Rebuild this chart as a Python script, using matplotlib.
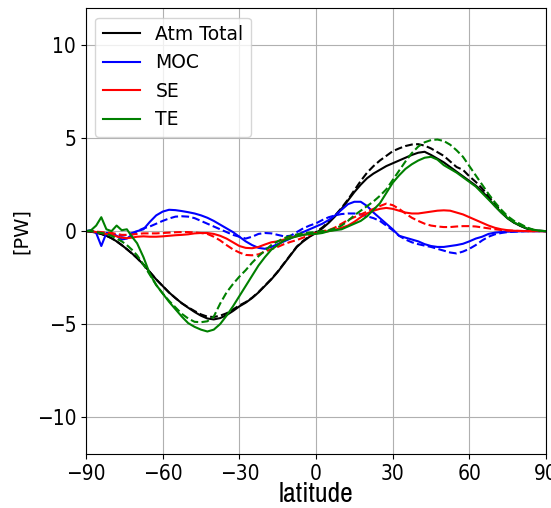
import numpy as np
import matplotlib
matplotlib.use("Agg")
import matplotlib.pyplot as plt
from matplotlib import font_manager

# latitude grid (deg)
lat = [-90, -88, -86, -84, -82, -80, -78, -76, -74, -72, -70,
       -67.5, -65, -62.5, -60, -57.5, -55, -52.5, -50, -47.5, -45, -42.5, -40,
       -37.5, -35, -32.5, -30, -27.5, -25, -22.5, -20, -17.5, -15, -12.5, -10,
       -7.5, -5, -2.5, 0, 2.5, 5, 7.5, 10, 12.5, 15, 17.5, 20, 22.5, 25, 27.5,
       30, 32.5, 35, 37.5, 40, 42.5, 45, 47.5, 50, 52.5, 55, 57.5, 60, 62.5,
       65, 67.5, 70, 72.5, 75, 77.5, 80, 82.5, 85, 87.5, 90]

# Atm total transport [PW]
total_solid = [0, -0.03, -0.08, -0.15, -0.25, -0.38, -0.55, -0.75, -0.97, -1.2, -1.45,
               -1.8, -2.2, -2.6, -2.95, -3.3, -3.6, -3.88, -4.12, -4.35, -4.55, -4.7, -4.75,
               -4.68, -4.52, -4.3, -4.05, -3.85, -3.6, -3.3, -2.95, -2.6, -2.2, -1.75, -1.3,
               -0.85, -0.55, -0.3, -0.1, 0.15, 0.45, 0.8, 1.2, 1.65, 2.1, 2.5, 2.85, 3.1, 3.3, 3.5,
               3.65, 3.8, 3.95, 4.1, 4.22, 4.27, 4.1, 3.9, 3.7, 3.45, 3.2, 2.95, 2.7, 2.45,
               2.15, 1.75, 1.35, 1.0, 0.68, 0.45, 0.28, 0.13, 0.06, 0.02, 0]
total_dash = [0, -0.03, -0.08, -0.15, -0.25, -0.38, -0.55, -0.75, -0.97, -1.2, -1.45,
              -1.8, -2.2, -2.6, -2.95, -3.3, -3.6, -3.88, -4.1, -4.3, -4.48, -4.6, -4.62,
              -4.55, -4.42, -4.22, -4.0, -3.82, -3.58, -3.28, -2.93, -2.58, -2.18, -1.73, -1.28,
              -0.83, -0.52, -0.27, -0.05, 0.2, 0.5, 0.85, 1.25, 1.7, 2.2, 2.7, 3.15, 3.5, 3.8, 4.05,
              4.3, 4.45, 4.58, 4.66, 4.68, 4.6, 4.45, 4.25, 4.05, 3.75, 3.45, 3.3, 2.95, 2.65,
              2.3, 1.88, 1.45, 1.05, 0.72, 0.47, 0.29, 0.15, 0.06, 0.01, 0]

# MOC
moc_solid = [0, 0.05, -0.1, -0.8, -0.1, -0.1, -0.25, -0.45, -0.4, -0.2, 0.0,
             0.1, 0.5, 0.85, 1.05, 1.15, 1.13, 1.08, 1.02, 0.95, 0.85, 0.72, 0.55,
             0.35, 0.15, -0.05, -0.3, -0.55, -0.75, -0.9, -0.95, -0.85, -0.7, -0.55, -0.4,
             -0.2, -0.05, 0.1, 0.25, 0.4, 0.6, 0.85, 1.15, 1.45, 1.58, 1.58, 1.35, 1.0, 0.7, 0.4,
             0.1, -0.25, -0.35, -0.45, -0.55, -0.7, -0.8, -0.85, -0.85, -0.8, -0.75, -0.68, -0.55, -0.4,
             -0.3, -0.15, -0.08, -0.05, -0.03, -0.02, -0.01, 0, 0, 0, 0]
moc_dash = [0, 0, -0.05, -0.1, -0.1, -0.12, -0.2, -0.25, -0.2, -0.1, 0.0,
            0.15, 0.25, 0.4, 0.55, 0.68, 0.78, 0.8, 0.78, 0.7, 0.55, 0.4, 0.25,
            0.1, -0.05, -0.2, -0.3, -0.4, -0.3, -0.15, -0.1, -0.12, -0.2, -0.28, -0.25,
            -0.05, 0.15, 0.3, 0.42, 0.6, 0.75, 0.85, 0.92, 0.95, 0.95, 0.9, 0.8, 0.7, 0.55, 0.3,
            0.05, -0.25, -0.45, -0.6, -0.7, -0.78, -0.85, -0.95, -1.05, -1.15, -1.2, -1.1, -0.95, -0.75,
            -0.5, -0.3, -0.17, -0.1, -0.05, -0.03, -0.01, 0, 0, 0, 0]

# stationary eddies
se_solid = [0, 0, -0.05, -0.1, -0.15, -0.2, -0.28, -0.35, -0.38, -0.35, -0.3,
            -0.28, -0.3, -0.3, -0.28, -0.25, -0.22, -0.2, -0.17, -0.12, -0.1, -0.1, -0.15,
            -0.25, -0.4, -0.6, -0.8, -0.9, -0.92, -0.85, -0.72, -0.6, -0.55, -0.45, -0.35,
            -0.28, -0.2, -0.15, -0.12, -0.05, 0.0, 0.08, 0.18, 0.3, 0.5, 0.75, 0.95, 1.1, 1.2, 1.25,
            1.2, 1.1, 1.0, 0.95, 0.95, 1.0, 1.05, 1.1, 1.12, 1.1, 1.0, 0.9, 0.75, 0.6,
            0.45, 0.3, 0.18, 0.1, 0.05, 0.02, 0.01, 0, 0, 0, 0]
se_dash = [0, 0, -0.03, -0.05, -0.08, -0.1, -0.15, -0.2, -0.2, -0.18, -0.15,
           -0.12, -0.12, -0.12, -0.1, -0.08, -0.06, -0.05, -0.05, -0.07, -0.1, -0.15, -0.3,
           -0.5, -0.75, -0.98, -1.15, -1.28, -1.3, -1.25, -1.1, -0.97, -0.85, -0.7, -0.58,
           -0.48, -0.35, -0.2, -0.1, 0.0, 0.05, 0.2, 0.4, 0.6, 0.75, 0.9, 1.05, 1.2, 1.35, 1.48,
           1.4, 1.2, 0.95, 0.72, 0.55, 0.4, 0.3, 0.25, 0.22, 0.22, 0.25, 0.27, 0.27, 0.25,
           0.2, 0.15, 0.1, 0.06, 0.03, 0.02, 0.01, 0, 0, 0, 0]

# transient eddies
te_solid = [0, 0.05, 0.3, 0.75, 0.1, 0.0, 0.3, 0.05, 0.1, -0.3, -0.65,
            -1.4, -2.3, -2.9, -3.35, -3.8, -4.2, -4.6, -4.95, -5.15, -5.3, -5.4, -5.3,
            -5.0, -4.55, -4.05, -3.5, -2.95, -2.4, -1.85, -1.4, -1.0, -0.75, -0.5, -0.38,
            -0.28, -0.2, -0.15, -0.15, -0.1, 0.0, 0.05, 0.1, 0.25, 0.4, 0.55, 0.8, 1.15, 1.5, 2.05,
            2.6, 3.0, 3.35, 3.6, 3.8, 3.95, 4.0, 3.85, 3.55, 3.35, 3.15, 2.9, 2.65, 2.4,
            2.05, 1.7, 1.35, 1.0, 0.7, 0.47, 0.3, 0.15, 0.07, 0.02, 0]
te_dash = [0, 0, -0.05, -0.1, -0.15, -0.25, -0.4, -0.55, -0.75, -1.0, -1.3,
           -1.8, -2.35, -2.9, -3.35, -3.75, -4.1, -4.45, -4.7, -4.88, -4.9, -4.85, -4.6,
           -3.9, -3.3, -2.85, -2.45, -2.1, -1.7, -1.35, -1.05, -0.75, -0.55, -0.38, -0.25,
           -0.18, -0.12, -0.08, -0.05, 0.0, 0.05, 0.15, 0.3, 0.55, 0.85, 1.1, 1.35, 1.6, 1.9, 2.25,
           2.75, 3.25, 3.75, 4.2, 4.55, 4.78, 4.9, 4.93, 4.85, 4.65, 4.35, 4.0, 3.5, 3.0,
           2.5, 2.0, 1.55, 1.15, 0.8, 0.55, 0.38, 0.2, 0.08, 0.02, 0]

series = [
    ("Atm Total", "black", total_solid, total_dash),
    ("MOC", "blue", moc_solid, moc_dash),
    ("SE", "red", se_solid, se_dash),
    ("TE", "green", te_solid, te_dash),
]


def find_font(keys):
    # pick the first installed font file whose name contains one of the keys
    for key in keys:
        for f in font_manager.fontManager.ttflist:
            if key in f.fname.replace(" ", "") and "Bold" not in f.fname and "Italic" not in f.fname \
                    and "Oblique" not in f.fname:
                return font_manager.FontProperties(fname=f.fname)
    return None


narrow = find_font(["LiberationSansNarrow-Regular", "SansNarrow", "Narrow", "Condensed-Regular",
                    "SansCondensed.ttf", "Condensed"])
cond = find_font(["DejaVuSansCondensed.ttf"])

fig = plt.figure(figsize=(5.51, 5.08), dpi=100)
ax = fig.add_axes([0.156, 0.106, 0.835, 0.878])

for name, color, solid, dash in series:
    ax.plot(lat, solid, color=color, lw=1.5, label=name)
    ax.plot(lat, dash, color=color, lw=1.5, ls="--")

ax.set_xlim(-90, 90)
ax.set_ylim(-12, 12)
ax.set_xticks([-90, -60, -30, 0, 30, 60, 90])
ax.set_yticks([-10, -5, 0, 5, 10])
ax.tick_params(labelsize=14)
if cond is not None:
    for lab in ax.get_xticklabels() + ax.get_yticklabels():
        lab.set_fontproperties(cond)
        lab.set_fontsize(15)
ax.grid(True, color="#b0b0b0", lw=0.8)
ax.set_axisbelow(True)

if narrow is not None:
    xl = ax.set_xlabel("latitude", labelpad=-1)
    xl.set_fontproperties(narrow)
    xl.set_fontsize(20)
else:
    ax.set_xlabel("latitude", fontsize=17, labelpad=0)
ax.set_ylabel("[PW]", fontsize=14)
ax.legend(loc="upper left", fontsize=13.5)

fig.savefig("out.png", dpi=100)
